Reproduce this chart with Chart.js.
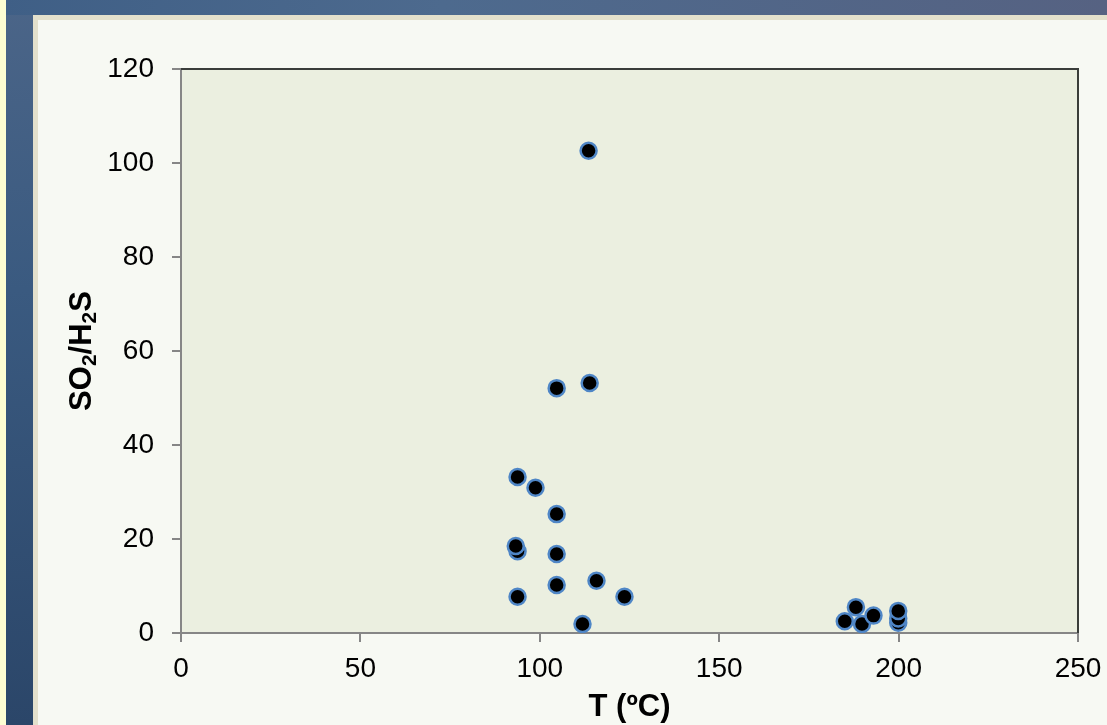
<!DOCTYPE html>
<html>
<head>
<meta charset="utf-8">
<script src="https://cdn.jsdelivr.net/npm/chart.js@4.4.1/dist/chart.umd.min.js"></script>
<style>
  html, body { margin: 0; padding: 0; width: 1107px; height: 725px; overflow: hidden; }
  body { position: relative; background: linear-gradient(180deg, #4b6588 0%, #3a5a80 40%, #2b4669 100%); }
  #topbar { position: absolute; left: 0; top: 0; width: 1107px; height: 15px; background: linear-gradient(90deg, #3f5f86 0%, #4d6a8e 40%, #566282 100%); }
  #yellow { position: absolute; left: 0; top: 0; width: 6px; height: 725px; background: #fdfdd2; }
  #panel { position: absolute; left: 33px; top: 15px; width: 1074px; height: 710px; background: #f7f9f3; border-left: 5px solid #e3e0cc; border-top: 5px solid #e3e0cc; box-sizing: border-box; }
  #wrap { position: absolute; left: 0; top: 0; width: 1107px; height: 725px; }
</style>
</head>
<body>
<div id="topbar"></div>
<div id="yellow"></div>
<div id="panel"></div>
<div id="wrap"><canvas id="c" width="1107" height="725"></canvas></div>
<script>
// Data
const temperatureC = [113.6, 104.7, 113.9, 93.8, 98.8, 104.7, 93.8, 93.3, 104.7, 104.7, 115.8, 93.8, 123.6, 111.9, 185.0, 188.1, 189.8, 193.0, 199.9, 199.9, 199.9];
const so2h2sRatio  = [102.6, 52.1, 53.2, 33.2, 30.9, 25.3, 17.4, 18.5, 16.8, 10.2, 11.1, 7.7, 7.7, 1.9, 2.5, 5.5, 1.9, 3.7, 2.2, 3.1, 4.7];
const xTicks = [0, 50, 100, 150, 200, 250];
const yTicks = [0, 20, 40, 60, 80, 100, 120];
const xTitle = 'T (ºC)';
// y title pieces: [text, isSubscript]  -> "SO2/H2S" with subscript 2s
const yTitleParts = [['SO', false], ['2', true], ['/H', false], ['2', true], ['S', false]];

const points = temperatureC.map((t, i) => ({ x: t, y: so2h2sRatio[i] }));

const FAMILY = '"Liberation Sans", Arial, sans-serif';

const plotDecor = {
  id: 'plotDecor',
  beforeDraw(chart) {
    const { ctx, chartArea: a } = chart;
    ctx.save();
    ctx.fillStyle = '#ebefe0';
    ctx.fillRect(a.left, a.top, a.right - a.left, a.bottom - a.top);
    ctx.restore();
  },
  afterDatasetsDraw(chart) {
    const { ctx, chartArea: a } = chart;
    ctx.save();
    ctx.strokeStyle = '#3a3d3a';
    ctx.lineWidth = 2;
    ctx.beginPath();
    ctx.moveTo(a.left, a.top);
    ctx.lineTo(a.right, a.top);
    ctx.lineTo(a.right, a.bottom);
    ctx.stroke();
    ctx.restore();
  },
  afterDraw(chart) {
    // y-axis title with real subscripts, rotated
    const { ctx } = chart;
    const a = chart.chartArea;
    const big = 'bold 31px ' + FAMILY;
    const small = 'bold 21px ' + FAMILY;
    ctx.save();
    let total = 0;
    yTitleParts.forEach(([t, sub]) => { ctx.font = sub ? small : big; total += ctx.measureText(t).width; });
    const cx = 80, cy = (a.top + a.bottom) / 2;
    ctx.translate(cx, cy);
    ctx.rotate(-Math.PI / 2);
    ctx.fillStyle = '#000';
    ctx.textBaseline = 'alphabetic';
    ctx.textAlign = 'left';
    let x = -total / 2;
    const baseY = 11;
    yTitleParts.forEach(([t, sub]) => {
      ctx.font = sub ? small : big;
      ctx.fillText(t, x, sub ? baseY + 5 : baseY);
      x += ctx.measureText(t).width;
    });
    ctx.restore();
  }
};

const tickFont = { family: FAMILY, size: 28 };
const titleFont = { family: FAMILY, size: 31, weight: 'bold', lineHeight: 1.1 };

new Chart(document.getElementById('c'), {
  type: 'scatter',
  data: {
    datasets: [{
      data: points,
      backgroundColor: '#000000',
      borderColor: '#4f86c6',
      borderWidth: 2.5,
      pointRadius: 8,
      pointHoverRadius: 8
    }]
  },
  options: {
    responsive: false,
    animation: false,
    events: [],
    layout: { padding: { left: 0, top: 69, right: 29, bottom: 0 } },
    plugins: { legend: { display: false }, tooltip: { enabled: false } },
    scales: {
      x: {
        type: 'linear',
        min: 0, max: 250,
        afterBuildTicks(scale) { scale.ticks = xTicks.map(v => ({ value: v })); },
        afterFit(scale) { scale.height = 92; scale.paddingLeft = 0; scale.paddingRight = 0; },
        ticks: { font: tickFont, color: '#000', padding: 10, maxRotation: 0 },
        grid: { display: true, drawOnChartArea: false, drawTicks: true, tickLength: 9, color: '#868686', lineWidth: 2 },
        border: { display: true, color: '#868686', width: 2 },
        title: { display: true, text: xTitle, font: titleFont, color: '#000', padding: { top: 0, bottom: 0 } }
      },
      y: {
        type: 'linear',
        min: 0, max: 120,
        afterBuildTicks(scale) { scale.ticks = yTicks.map(v => ({ value: v })); },
        afterFit(scale) { scale.width = 181; scale.paddingTop = 0; scale.paddingBottom = 0; },
        ticks: { font: tickFont, color: '#000', padding: 18 },
        grid: { display: true, drawOnChartArea: false, drawTicks: true, tickLength: 9, color: '#868686', lineWidth: 2 },
        border: { display: true, color: '#868686', width: 2 },
        title: { display: false }
      }
    }
  },
  plugins: [plotDecor]
});
</script>
</body>
</html>
